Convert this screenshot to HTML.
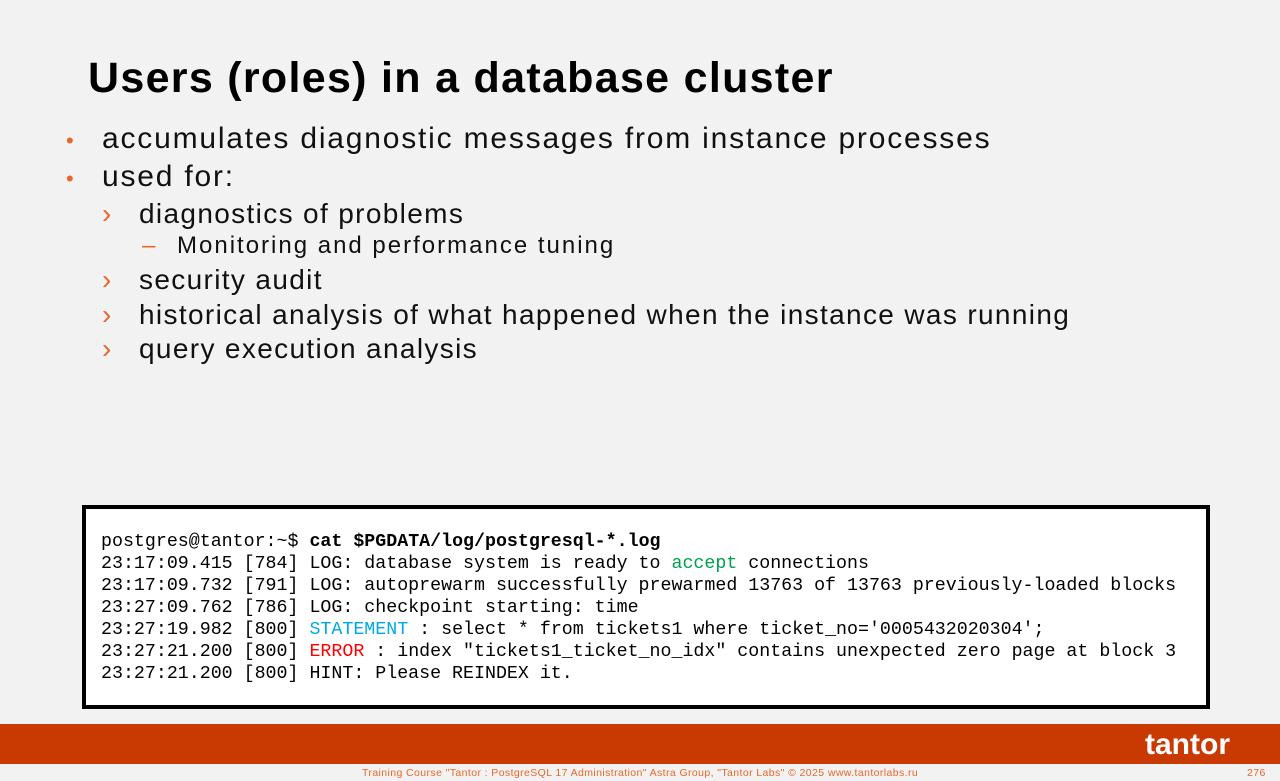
<!DOCTYPE html>
<html><head><meta charset="utf-8"><style>
body{margin:0;width:1280px;height:781px;background:#f2f2f2;position:relative;overflow:hidden;font-family:"Liberation Sans",sans-serif;}
.a{position:absolute;white-space:nowrap;color:#111;}
h1{position:absolute;left:88px;top:54px;margin:0;font-size:43px;font-weight:bold;color:#000;letter-spacing:1.3px}
.l1{font-size:30px;letter-spacing:1.8px}
.l2{font-size:28px;letter-spacing:1.35px}
.l3{font-size:24px;letter-spacing:2px}
.or{color:#e8672a}
.box{position:absolute;left:82px;top:505px;width:1120px;height:196px;background:#fff;border:4px solid #000;}
pre{position:absolute;left:101px;top:531px;margin:0;font-family:"Liberation Mono",monospace;font-size:18.3px;line-height:22px;color:#000}
.bar{position:absolute;left:0;top:724px;width:1280px;height:40px;background:#c93a02}
.ft{position:absolute;top:767px;font-size:10.5px;color:#e8672a;letter-spacing:0.4px}
</style></head><body>
<h1>Users (roles) in a database cluster</h1>
<div class="a or" style="left:66px;top:128px;font-size:22px">•</div>
<div class="a l1" style="left:102px;top:122px">accumulates diagnostic messages from instance processes</div>
<div class="a or" style="left:66px;top:166px;font-size:22px">•</div>
<div class="a l1" style="left:102px;top:160px">used for:</div>
<div class="a or l2" style="left:102px;top:198px">›</div>
<div class="a l2" style="left:139px;top:198px">diagnostics of problems</div>
<div class="a or l3" style="left:142px;top:232px">–</div>
<div class="a l3" style="left:177px;top:232px">Monitoring and performance tuning</div>
<div class="a or l2" style="left:102px;top:264px">›</div>
<div class="a l2" style="left:139px;top:264px">security audit</div>
<div class="a or l2" style="left:102px;top:299px">›</div>
<div class="a l2" style="left:139px;top:299px">historical analysis of what happened when the instance was running</div>
<div class="a or l2" style="left:102px;top:333px">›</div>
<div class="a l2" style="left:139px;top:333px">query execution analysis</div>
<div class="box"></div>
<pre>postgres@tantor:~$ <b>cat $PGDATA/log/postgresql-*.log</b>
23:17:09.415 [784] LOG: database system is ready to <span style="color:#00a050">accept</span> connections
23:17:09.732 [791] LOG: autoprewarm successfully prewarmed 13763 of 13763 previously-loaded blocks
23:27:09.762 [786] LOG: checkpoint starting: time
23:27:19.982 [800] <span style="color:#00a8e8">STATEMENT</span> : select * from tickets1 where ticket_no='0005432020304';
23:27:21.200 [800] <span style="color:#f00">ERROR</span> : index "tickets1_ticket_no_idx" contains unexpected zero page at block 3
23:27:21.200 [800] HINT: Please REINDEX it.</pre>
<div class="bar"></div>
<div class="a" style="left:1145px;top:728px;color:#fff;font-size:30px;font-weight:bold;letter-spacing:0px">tantor</div>
<div class="ft" style="left:362px">Training Course "Tantor : PostgreSQL 17 Administration" Astra Group, "Tantor Labs" © 2025  www.tantorlabs.ru</div>
<div class="ft" style="left:1247px">276</div>
</body></html>
